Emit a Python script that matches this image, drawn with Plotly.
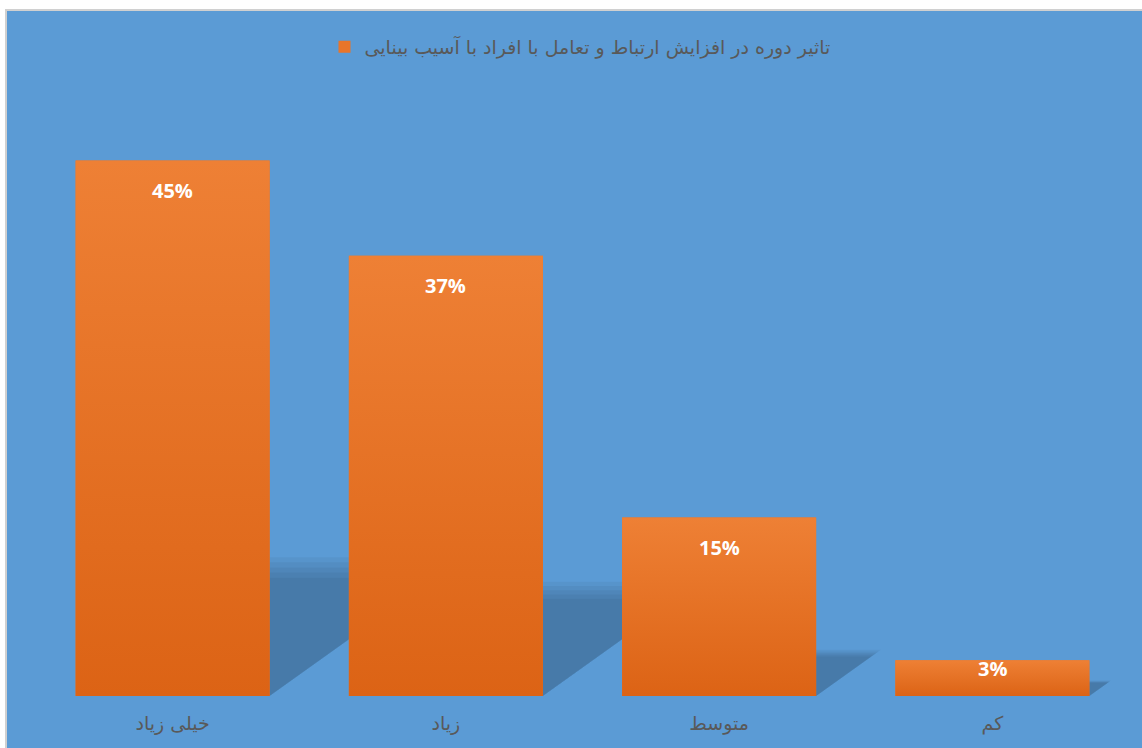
import plotly.graph_objects as go

categories = ["خیلی زیاد", "زیاد", "متوسط", "کم"]
values = [45, 37, 15, 3]
labels = ["45%", "37%", "15%", "3%"]
series_name = "تاثیر دوره در افزایش ارتباط و تعامل با افراد با آسیب بینایی"

# layout geometry (pixels)
W, H = 1142, 748
ML, MR, MT, MB = 36, 13, 101, 52
PW, PH = W - ML - MR, H - MT - MB
YMAX = 50
BAR_FRAC = 0.71
px_per_x = PW / len(categories)
px_per_y = PH / YMAX

BG = "#5B9BD5"
TOP_C = "#EE8035"
BOT_C = "#DC6315"

fig = go.Figure()
xs = list(range(len(categories)))

fig.add_trace(go.Bar(
    x=xs, y=values, name=series_name,
    marker=dict(color="#E8752A", line=dict(width=0)),
    showlegend=True, hoverinfo="skip",
))

# gradient overlay for each bar, derived from the data
for i, v in zip(xs, values):
    x0, x1 = i - BAR_FRAC / 2, i + BAR_FRAC / 2
    fig.add_trace(go.Scatter(
        x=[x0, x1, x1, x0, x0], y=[0, 0, v, v, 0],
        fill="toself", mode="none", showlegend=False, hoverinfo="skip",
        fillgradient=dict(type="vertical", start=0, stop=v,
                          colorscale=[[0, BOT_C], [1, TOP_C]]),
    ))

shapes = []
# background panel with border
shapes.append(dict(
    type="rect", xref="paper", yref="paper", layer="below",
    x0=(6 - ML) / PW, x1=(W + 20 - ML) / PW,
    y0=-(MB + 20) / PH,
    y1=(PH + MT - 10) / PH,
    fillcolor=BG, line=dict(color="#D0D0D0", width=2),
))
# soft perspective shadows behind bars
scales = [1.08, 1.04, 1.0, 0.96, 0.92]
for i, v in zip(xs, values):
    R = i + BAR_FRAC / 2
    for s in scales:
        dy = max(0.24 * v, 1.2) * s
        dx_units = 1.4 * dy * px_per_y / px_per_x
        path = (f"M {R - BAR_FRAC/2},0 L {R},0 L {R + dx_units},{dy} "
                f"L {R - BAR_FRAC/2},{dy} Z")
        shapes.append(dict(
            type="path", xref="x", yref="y", path=path, layer="below",
            fillcolor="rgba(0,0,0,0.042)", line=dict(width=0),
        ))

# data labels
annotations = []
for i, v, t in zip(xs, values, labels):
    hpx = v * px_per_y
    shift = -min(30, 0.22 * hpx)
    annotations.append(dict(
        x=i, y=v, xref="x", yref="y", text=t, showarrow=False,
        yanchor="middle", yshift=shift,
        font=dict(family="Open Sans", size=20, color="white", weight="bold"),
    ))

fig.update_layout(
    width=W, height=H,
    margin=dict(l=ML, r=MR, t=MT, b=MB),
    paper_bgcolor="white",
    plot_bgcolor="rgba(0,0,0,0)",
    bargap=1 - BAR_FRAC,
    shapes=shapes,
    annotations=annotations,
    showlegend=True,
    legend=dict(
        orientation="h", x=(580 - ML) / PW, xanchor="center",
        y=(PH + MT - 47) / PH, yanchor="middle",
        bgcolor="rgba(0,0,0,0)",
        font=dict(family="DejaVu Sans", size=19, color="#595959"),
        itemwidth=30,
    ),
    xaxis=dict(
        range=[-0.5, len(categories) - 0.5],
        tickmode="array", tickvals=xs, ticktext=categories,
        showgrid=False, zeroline=False, showline=False, ticks="",
        ticklabelstandoff=14,
        tickfont=dict(family="DejaVu Sans", size=19, color="#595959"),
        fixedrange=True,
    ),
    yaxis=dict(
        range=[0, YMAX], visible=False, showgrid=False, zeroline=False,
        fixedrange=True,
    ),
)

fig.write_html(
    "out.html",
    config={"displayModeBar": False},
    post_script="document.body.style.margin='0';document.body.style.overflow='hidden';",
)
